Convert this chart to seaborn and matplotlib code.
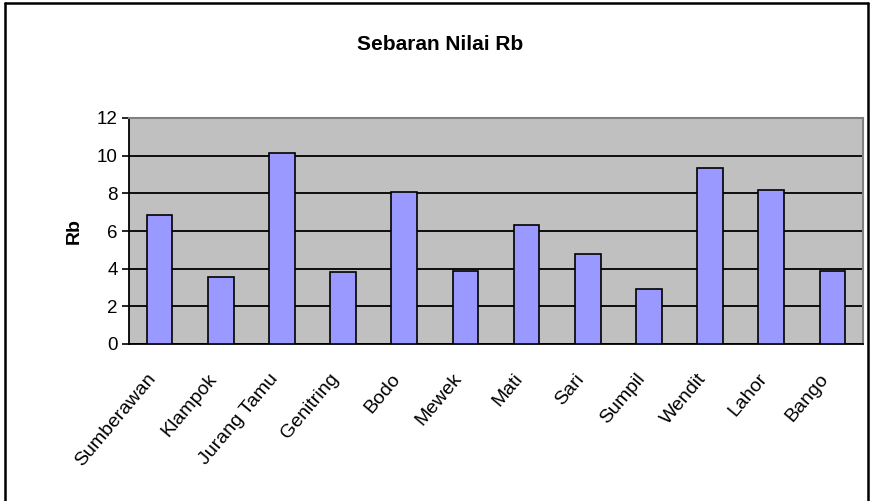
import matplotlib
matplotlib.use("Agg")
import matplotlib.pyplot as plt
from matplotlib.lines import Line2D
import seaborn as sns
import numpy as np

# Rb values per location
sites = ["Sumberawan", "Klampok", "Jurang Tamu", "Genitring", "Bodo", "Mewek",
         "Mati", "Sari", "Sumpil", "Wendit", "Lahor", "Bango"]
rb_values = [6.85, 3.57, 10.15, 3.8, 8.05, 3.88, 6.32, 4.78, 2.92, 9.36, 8.18, 3.89]
y_ticks = [0, 2, 4, 6, 8, 10, 12]

sns.set_style("white")
plt.rcParams["font.family"] = ["Liberation Sans", "DejaVu Sans"]
plt.rcParams["text.color"] = "black"
plt.rcParams["xtick.color"] = "black"
plt.rcParams["ytick.color"] = "black"
plt.rcParams["axes.labelcolor"] = "black"

fig = plt.figure(figsize=(8.71, 5.01), dpi=100)
ax = fig.add_axes([129 / 871, 1 - 344 / 501, (863 - 129) / 871, (344 - 118) / 501])
ax.set_facecolor("#C0C0C0")

sns.barplot(x=sites, y=rb_values, color="#9999FF", edgecolor="black",
            linewidth=1.2, width=0.42, saturation=1, ax=ax, zorder=3)

ax.set_xlim(-0.5, len(sites) - 0.5)
ax.set_ylim(0, 12)
ax.set_yticks(y_ticks)
ax.set_yticklabels([str(v) for v in y_ticks], fontsize=13.5)
ax.yaxis.grid(True, color="black", linewidth=1.3, zorder=1)
ax.set_axisbelow(True)

# slanted category labels ending just left of each bar centre;
# visible tick marks sit on the category boundaries
label_offset = -0.22
ax.set_xticks(np.arange(len(sites)) + label_offset)
ax.set_xticklabels(sites, rotation=50, ha="right", rotation_mode="anchor",
                   fontsize=14)
ax.set_xticks(np.arange(len(sites) + 1) - 0.5, minor=True)
ax.tick_params(axis="x", which="major", length=0, pad=19)
ax.tick_params(axis="x", which="minor", length=5, width=1.2, color="black",
               direction="out")
ax.tick_params(axis="y", length=5, width=1.2, color="black", direction="out",
               pad=3, left=True)

for side in ("left", "bottom"):
    ax.spines[side].set_color("black")
    ax.spines[side].set_linewidth(1.3)
for side in ("top", "right"):
    ax.spines[side].set_visible(True)
    ax.spines[side].set_color("#808080")
    ax.spines[side].set_linewidth(1.5)

ax.set_xlabel("")
ax.set_ylabel("Rb", fontsize=14, fontweight="bold", labelpad=10)

fig.text(440 / 871, 1 - 45 / 501, "Sebaran Nilai Rb", ha="center", va="center",
         fontsize=15, fontweight="bold")

# chart frame
W, H = 871, 501
frame = [((4.5, 4.5), (H, 2.5)), ((4.5, 867.5), (2.5, 2.5)), ((867.5, 867.5), (2.5, H))]
for xs, ys in frame:
    fig.add_artist(Line2D([x / W for x in xs], [1 - y / H for y in ys],
                          transform=fig.transFigure, color="black", linewidth=1.8))

fig.savefig("out.png", dpi=100)
